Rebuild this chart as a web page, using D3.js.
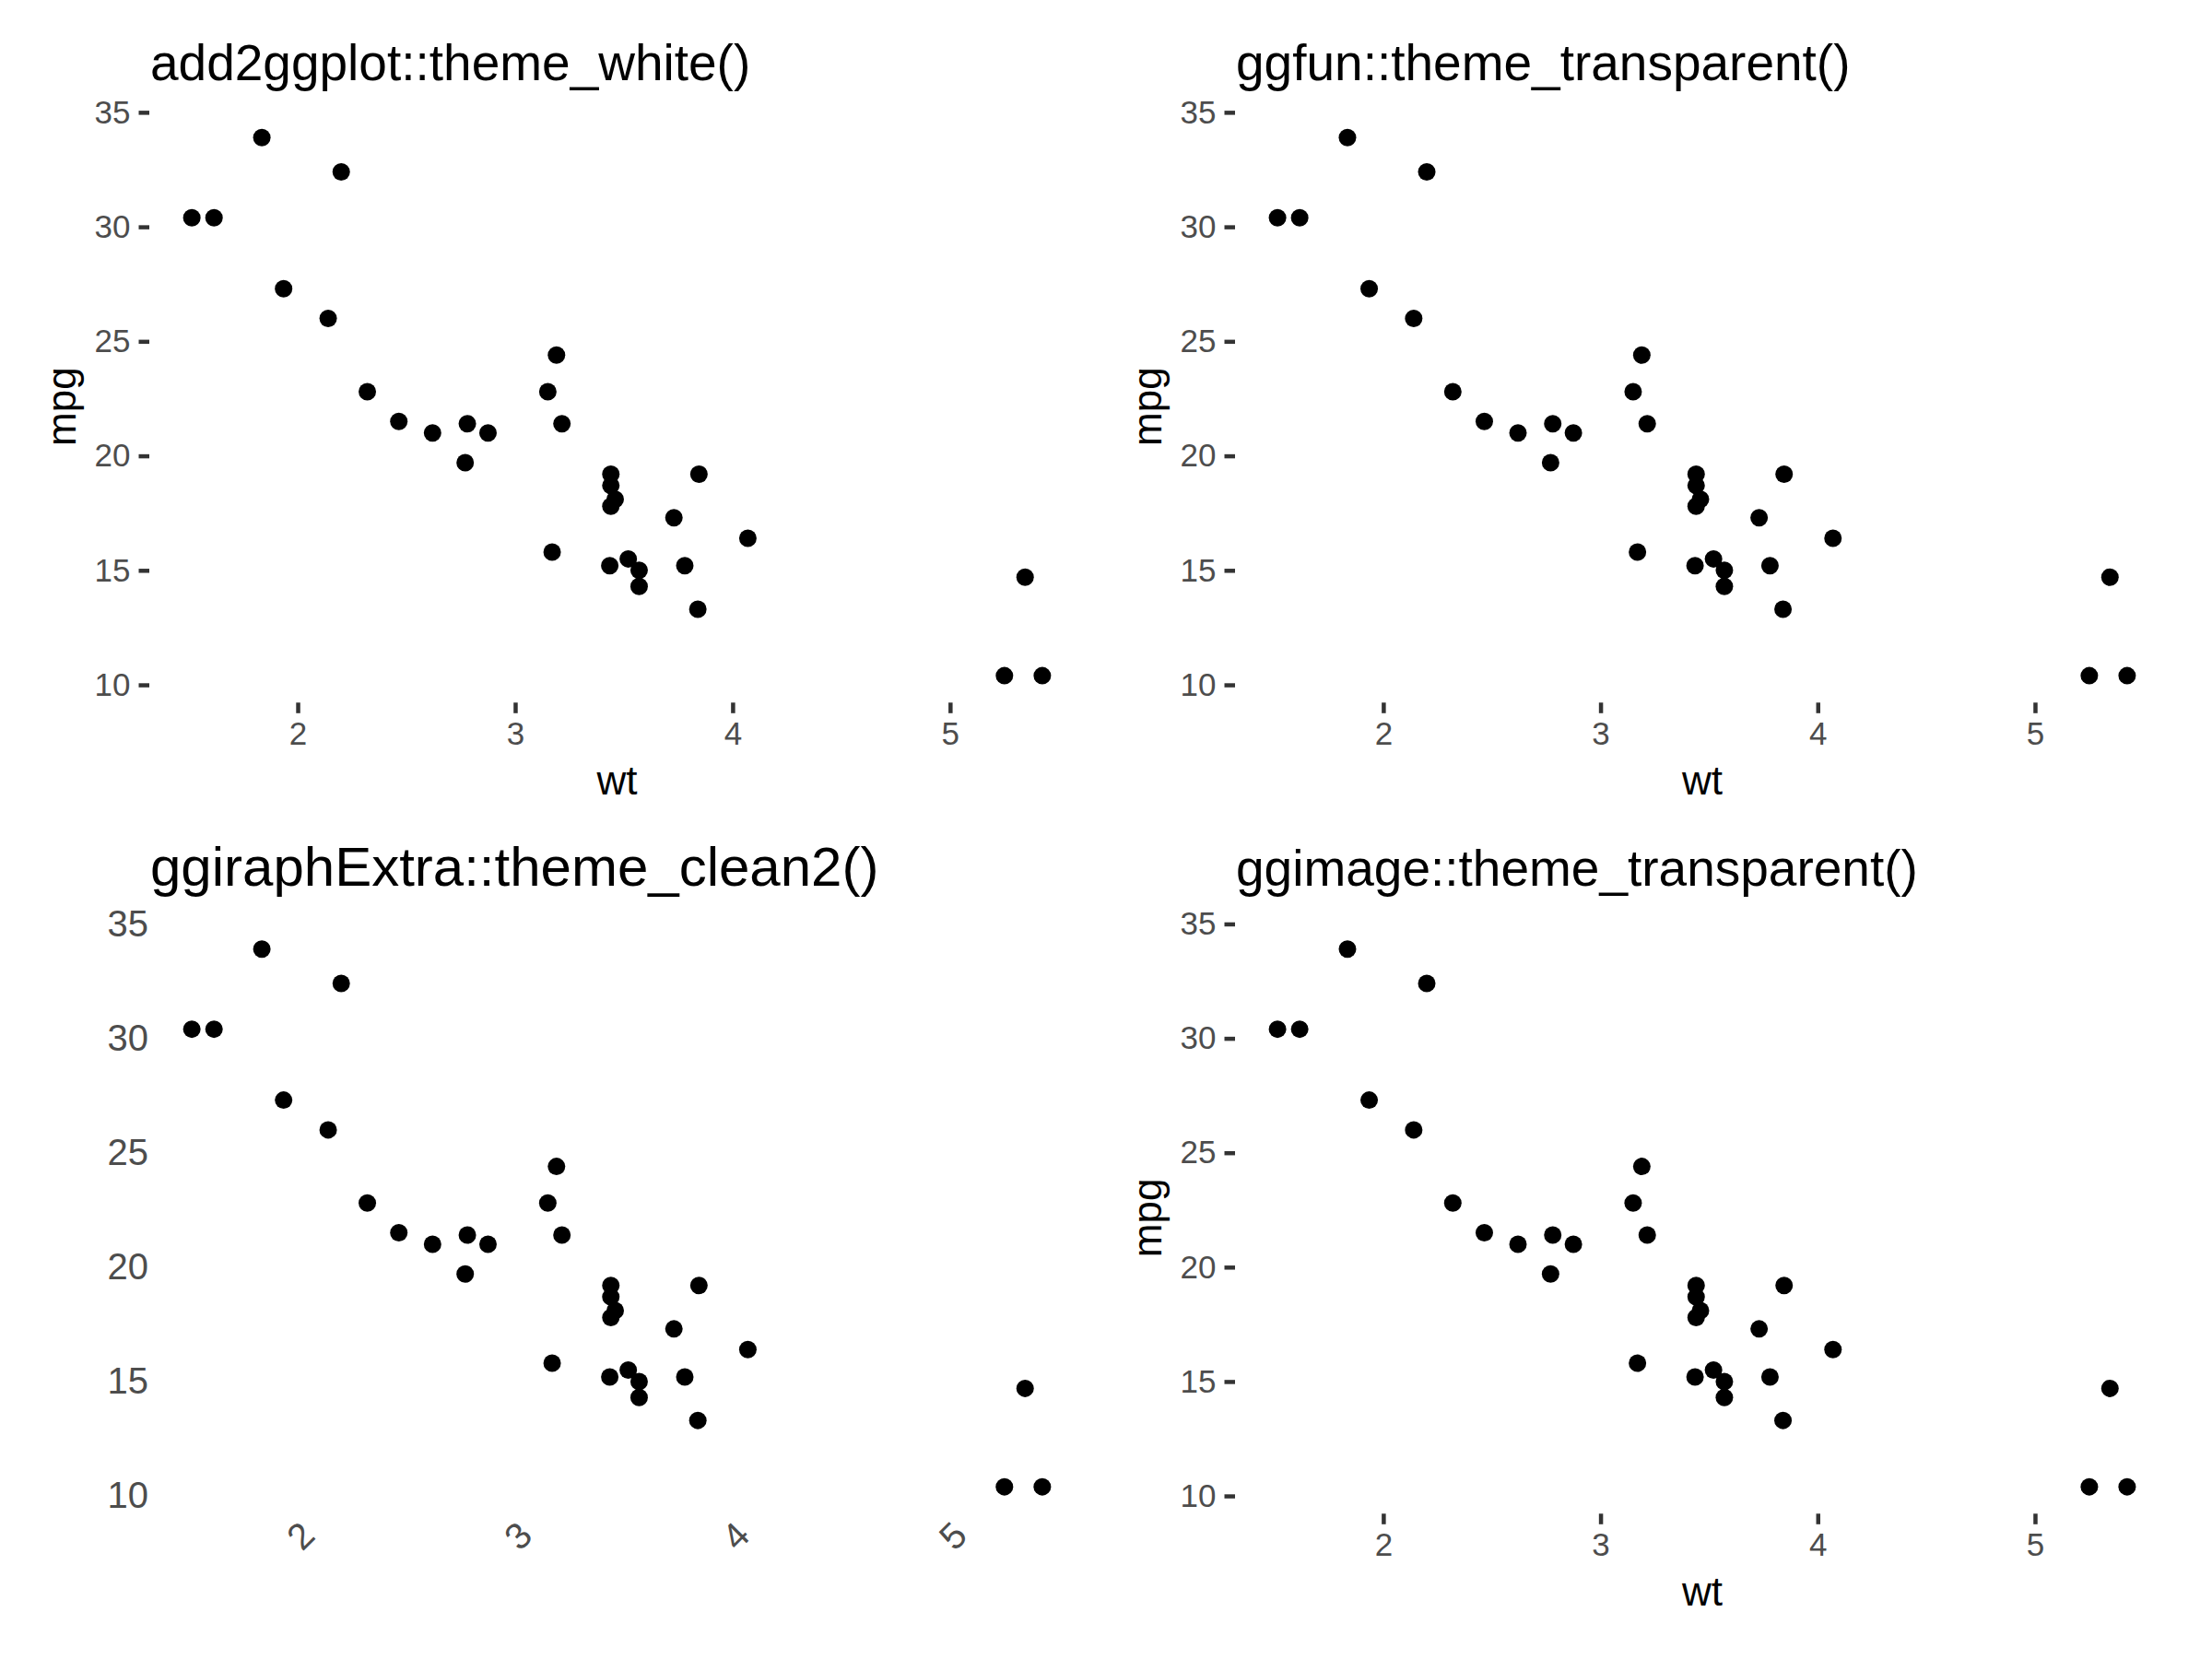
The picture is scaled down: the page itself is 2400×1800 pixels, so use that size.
<!DOCTYPE html>
<html>
<head>
<meta charset="utf-8">
<script src="https://cdn.jsdelivr.net/npm/d3@7"></script>
<style>
  html, body { margin: 0; padding: 0; background: #ffffff; }
  svg { display: block; }
  text { font-family: "Liberation Sans", Arial, Helvetica, sans-serif; }
</style>
</head>
<body>
<script>
// mtcars: wt (1000 lbs) and mpg
const wt  = [2.620, 2.875, 2.320, 3.215, 3.440, 3.460, 3.570, 3.190, 3.150, 3.440, 3.440,
             4.070, 3.730, 3.780, 5.250, 5.424, 5.345, 2.200, 1.615, 1.835, 2.465, 3.520,
             3.435, 3.840, 3.845, 1.935, 2.140, 1.513, 3.170, 2.770, 3.570, 2.780];
const mpg = [21.0, 21.0, 22.8, 21.4, 18.7, 18.1, 14.3, 24.4, 22.8, 19.2, 17.8,
             16.4, 17.3, 15.2, 10.4, 10.4, 14.7, 32.4, 30.4, 33.9, 21.5, 15.5,
             15.2, 13.3, 19.2, 27.3, 26.0, 30.4, 15.8, 19.7, 15.0, 21.4];
const xTicks = [2, 3, 4, 5];
const yTicks = [10, 15, 20, 25, 30, 35];
const titles = ["add2ggplot::theme_white()", "ggfun::theme_transparent()",
                "ggiraphExtra::theme_clean2()", "ggimage::theme_transparent()"];
const themes = ["std", "std", "clean", "std"];
const xLabel = "wt";
const yLabel = "mpg";

const W = 2400, H = 1800;
const svg = d3.select("body").append("svg").attr("width", W).attr("height", H);
svg.append("rect").attr("width", W).attr("height", H).attr("fill", "#ffffff");

const data = wt.map((w, i) => ({ wt: w, mpg: mpg[i] }));

function expand(ext, f) {
  const r = ext[1] - ext[0];
  return [ext[0] - r * f, ext[1] + r * f];
}
const xDom = expand(d3.extent(wt), 0.05);
const yDom = expand(d3.extent(mpg), 0.05);

// panel layout
const cols = [[162, 1177], [1340, 2354]];
const rows = [[120, 762.3], [1000.6, 1642.3]];
const titleBase = [87, 87, 961, 961];
const titleSize = [55, 55, 60, 55];

titles.forEach((title, i) => {
  const c = cols[i % 2], r = rows[Math.floor(i / 2)];
  const theme = themes[i];
  const x = d3.scaleLinear().domain(xDom).range(c);
  const y = d3.scaleLinear().domain(yDom).range([r[1], r[0]]);
  const g = svg.append("g");

  // title
  g.append("text")
    .attr("x", c[0] + 1).attr("y", titleBase[i])
    .attr("font-size", titleSize[i]).attr("fill", "#000")
    .text(title);

  if (theme === "std") {
    const ya = g.append("g").attr("transform", `translate(${c[0]},0)`)
      .call(d3.axisLeft(y).tickValues(yTicks).tickSize(11.5).tickPadding(9).tickFormat(d3.format("d")));
    const xa = g.append("g").attr("transform", `translate(0,${r[1]})`)
      .call(d3.axisBottom(x).tickValues(xTicks).tickSize(11.5).tickPadding(9.5).tickFormat(d3.format("d")));
    [ya, xa].forEach(a => {
      a.select(".domain").remove();
      a.selectAll(".tick line").attr("stroke", "#333333").attr("stroke-width", 4.5);
      a.selectAll(".tick text").attr("fill", "#4D4D4D").attr("font-size", 35)
        .attr("font-family", "Liberation Sans, Arial, sans-serif");
    });
    // axis titles
    g.append("text")
      .attr("transform", `translate(${c[0] - 80},${(r[0] + r[1]) / 2}) rotate(-90)`)
      .attr("text-anchor", "middle").attr("font-size", 44).attr("fill", "#000")
      .text(yLabel);
    g.append("text")
      .attr("x", (c[0] + c[1]) / 2).attr("y", r[1] + 100)
      .attr("text-anchor", "middle").attr("font-size", 44).attr("fill", "#000")
      .text(xLabel);
  } else {
    const ya = g.append("g").attr("transform", `translate(${c[0]},0)`)
      .call(d3.axisLeft(y).tickValues(yTicks).tickSize(0).tickPadding(1).tickFormat(d3.format("d")));
    ya.select(".domain").remove();
    ya.selectAll(".tick line").remove();
    ya.selectAll(".tick text").attr("fill", "#4D4D4D").attr("font-size", 40)
      .attr("font-family", "Liberation Sans, Arial, sans-serif");
    // rotated x labels
    g.selectAll("text.xrot").data(xTicks).enter().append("text")
      .attr("class", "xrot")
      .attr("transform", d => `translate(${x(d) + 3},${r[1] + 24}) rotate(-45)`)
      .attr("text-anchor", "middle").attr("dominant-baseline", "central")
      .attr("font-size", 40).attr("fill", "#4D4D4D")
      .text(d => d);
  }

  // points
  g.selectAll("circle").data(data).enter().append("circle")
    .attr("cx", d => x(d.wt)).attr("cy", d => y(d.mpg))
    .attr("r", 9.5).attr("fill", "#000");
});
</script>
</body>
</html>
